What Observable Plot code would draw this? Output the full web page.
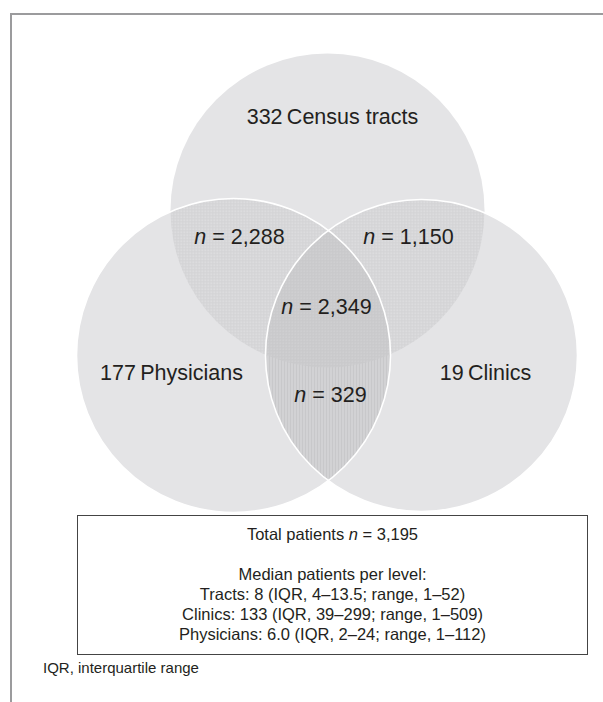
<!DOCTYPE html>
<html><head><meta charset="utf-8">
<script src="https://cdn.jsdelivr.net/npm/d3@7"></script>
<script src="https://cdn.jsdelivr.net/npm/@observablehq/plot@0.6"></script>
<style>
body{margin:0;background:#fff;font-family:"Liberation Sans",Arial,Helvetica,sans-serif;color:#231f20}
#wrap{position:relative;width:603px;height:702px;overflow:hidden}
#frame{position:absolute;left:10px;top:13px;width:700px;height:800px;border-top:2.5px solid #9b9b9d;border-left:2.5px solid #9b9b9d}
#chart{position:absolute;left:0;top:0}
#box{position:absolute;left:77px;top:515px;width:511px;height:140px;border:1px solid #444;box-sizing:border-box;text-align:center;font-size:16.5px;line-height:20px;padding-top:8px;background:#fff}
#note{position:absolute;left:43px;top:659px;font-size:15px;line-height:18px}
</style></head>
<body><div id="wrap"><div id="frame"></div><div id="chart"></div><div id="box"></div><div id="note"></div></div>
<script>
// ---- data ----
const setNames = ["Census tracts", "Physicians", "Clinics"];
const setCounts = [332, 177, 19];
const overlapNames = ["Tracts & Physicians", "Tracts & Clinics", "All three", "Physicians & Clinics"];
const overlapCounts = [2288, 1150, 2349, 329];
const totalPatients = 3195;
const levelNames = ["Tracts", "Clinics", "Physicians"];
const levelMedians = ["8", "133", "6.0"];
const levelIQR = ["4–13.5", "39–299", "2–24"];
const levelRange = ["1–52", "1–509", "1–112"];
const footnote = "IQR, interquartile range";

// ---- layout (pixels) ----
const circleX = [327, 233, 421], circleY = [210, 355, 355], circleR = [157, 157, 156];
const setLabelX = [332, 171, 485], setLabelY = [117, 373, 373];
const overlapX = [239, 408, 326, 330], overlapY = [237, 237, 307, 395];

const circles = setNames.map((name, i) => ({name, cx: circleX[i], cy: circleY[i], r: circleR[i]}));
const setLabels = setNames.map((name, i) => ({text: setCounts[i] + "\u2009" + name, x: setLabelX[i], y: setLabelY[i]}));
const overlaps = overlapNames.map((name, i) => ({text: "n = " + d3.format(",")(overlapCounts[i]), x: overlapX[i], y: overlapY[i]}));

const W = 603, H = 515;
const circ = {x: "cx", y: "cy", r: "r"};
const plot = Plot.plot({
  width: W, height: H, margin: 0,
  style: {fontFamily: '"Liberation Sans", Arial, Helvetica, sans-serif', background: "transparent"},
  x: {domain: [0, W], range: [0, W], axis: null},
  y: {domain: [0, H], range: [0, H], axis: null},
  r: {type: "identity"},
  marks: [
    Plot.dot(circles, {...circ, fill: "#e4e4e6"}),
    Plot.dot([circles[0]], {...circ, fill: "url(#patDots)"}),
    Plot.dot([circles[0]], {...circ, fill: "url(#patDots)"}),
    Plot.dot([circles[1]], {...circ, fill: "url(#patStripes)"}),
    Plot.dot([circles[0]], {...circ, fill: "url(#patDark)"}),
    Plot.dot(circles.slice(1), {...circ, fill: "none", stroke: "white", strokeWidth: 1.6}),
    Plot.text(setLabels, {x: "x", y: "y", text: "text", fontSize: 21.5, fill: "#231f20"}),
    Plot.text(overlaps, {x: "x", y: "y", text: "text", fontSize: 21.5, fill: "#231f20"})
  ]
});
document.getElementById("chart").appendChild(plot);

const svg = d3.select(plot);
const defs = svg.insert("defs", ":first-child");
const groups = plot.querySelectorAll('g[aria-label="dot"]');
const base = groups[0].querySelectorAll("circle");
["clipT", "clipP", "clipC"].forEach((id, i) => {
  defs.append("clipPath").attr("id", id).node().appendChild(base[i].cloneNode());
});
function pattern(id, w, h, bg, fg, fw, fh) {
  const p = defs.append("pattern").attr("id", id).attr("width", w).attr("height", h).attr("patternUnits", "userSpaceOnUse");
  p.append("rect").attr("width", w).attr("height", h).attr("fill", bg);
  p.append("rect").attr("width", fw).attr("height", fh).attr("fill", fg);
}
pattern("patDots", 3, 3, "#d3d3d5", "#e4e4e6", 1.5, 1.5);
pattern("patDark", 3, 3, "#c8c8ca", "#d4d4d6", 1.5, 1.5);
pattern("patStripes", 3, 3, "#c8c8ca", "#dcdcde", 1, 3);

d3.select(groups[1]).attr("clip-path", "url(#clipP)");
d3.select(groups[2]).attr("clip-path", "url(#clipC)");
d3.select(groups[3]).attr("clip-path", "url(#clipC)");
d3.select(groups[4]).attr("clip-path", "url(#clipP)");
const inner = groups[4].querySelector("circle");
const wrapG = document.createElementNS("http://www.w3.org/2000/svg", "g");
wrapG.setAttribute("clip-path", "url(#clipC)");
inner.parentNode.insertBefore(wrapG, inner);
wrapG.appendChild(inner);

plot.querySelectorAll('g[aria-label="text"] text').forEach(t => {
  const s = t.textContent;
  if (s.startsWith("n = ")) {
    t.textContent = "";
    d3.select(t).append("tspan").attr("font-style", "italic").text("n");
    d3.select(t).append("tspan").text(s.slice(1));
  }
});

// ---- box & note ----
const box = d3.select("#box");
box.append("div").html(`Total patients <i>n</i> = ${d3.format(",")(totalPatients)}`);
box.append("div").html("&nbsp;");
box.append("div").text("Median patients per level:");
levelNames.forEach((n, i) => box.append("div").text(`${n}: ${levelMedians[i]} (IQR, ${levelIQR[i]}; range, ${levelRange[i]})`));
d3.select("#note").text(footnote);
</script>
</body></html>
